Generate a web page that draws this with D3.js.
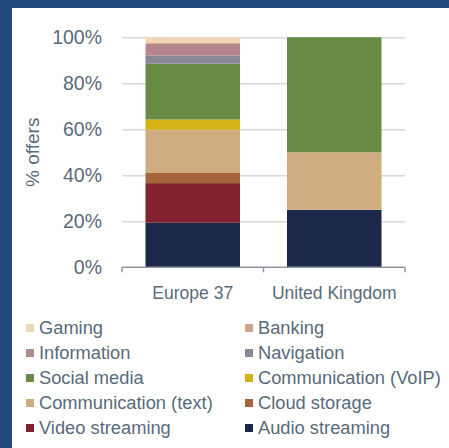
<!DOCTYPE html>
<html>
<head>
	<title>Offers by category</title>
	<meta charset='utf-8'>
	<style>
		body { margin: 0; background: #fff; }
		text { font-family: 'Liberation Sans', Arial, sans-serif; fill: #596a7b; }
		.grid line { stroke: #d9d9d9; stroke-width: 1.5px; }
		.grid path { stroke-width: 0; }
		.axis__y text { font-size: 19.5px; }
		.axis__x line, .axis__x path { stroke: #8e96a0; stroke-width: 1.5px; fill: none; }
		.axis__x text { font-size: 17.5px; }
		.legend text { font-size: 18.3px; }
	</style>
</head>
<body>

<script src='https://d3js.org/d3.v7.min.js'></script>
<script>
	'use strict';

	// данные
	const categories = ['Europe 37', 'United Kingdom'];
	const seriesNames = ['Audio streaming', 'Video streaming', 'Cloud storage', 'Communication (text)',
		'Communication (VoIP)', 'Social media', 'Navigation', 'Information', 'Banking', 'Gaming'];
	const europeValues = [19.4, 17.2, 4.4, 18.8, 4.5, 24.2, 3.6, 5.0, 0.4, 2.5];
	const ukValues = [25, 0, 0, 25, 0, 50, 0, 0, 0, 0];
	const seriesColors = ['#1c2849', '#822130', '#a5643a', '#cfad80', '#d4b319',
		'#678b44', '#878894', '#b5878a', '#d3a48f', '#f0d6b4'];
	const yTicks = [0, 20, 40, 60, 80, 100];
	const legendOrder = ['Gaming', 'Banking', 'Information', 'Navigation', 'Social media',
		'Communication (VoIP)', 'Communication (text)', 'Cloud storage', 'Video streaming', 'Audio streaming'];

	const W = 449, H = 448;
	const plot = {left: 122, right: 405, top: 37.3, bottom: 267.3};

	const svg = d3.select('body').append('svg')
		.attr('width', W)
		.attr('height', H);

	// рамка
	svg.append('rect').attr('width', W).attr('height', H).attr('fill', '#214a7c');
	svg.append('rect').attr('x', 12).attr('y', 8).attr('width', W - 12).attr('height', H - 8).attr('fill', '#fff');

	const xScale = d3.scaleBand().domain(categories).range([plot.left, plot.right])
		.paddingInner(0.332).paddingOuter(0.166);
	const xEdges = d3.scaleBand().domain(categories).range([plot.left, plot.right]).padding(0);
	const yScale = d3.scaleLinear().domain([0, 100]).range([plot.bottom, plot.top]);

	// сетка + подписи оси Y
	svg.append('g')
		.attr('class', 'grid axis__y')
		.attr('transform', 'translate(' + plot.left + ',0)')
		.call(d3.axisLeft(yScale)
			.tickValues(yTicks)
			.tickSize(-(plot.right - plot.left))
			.tickPadding(20)
			.tickFormat(function(d) { return d + '%'; }))
		.call(function(g) { g.selectAll('.tick').filter(function(d) { return d === 0; }).select('line').remove(); });

	// столбцы
	const rows = categories.map(function(c, i) {
		const row = {category: c};
		const vals = i === 0 ? europeValues : ukValues;
		seriesNames.forEach(function(s, j) { row[s] = vals[j]; });
		return row;
	});
	const stacked = d3.stack().keys(seriesNames)(rows);

	svg.append('g').selectAll('g')
		.data(stacked)
		.enter().append('g')
		.attr('fill', function(d, i) { return seriesColors[i]; })
		.selectAll('rect')
		.data(function(d) { return d; })
		.enter().append('rect')
		.attr('x', function(d) { return xScale(d.data.category); })
		.attr('width', xScale.bandwidth())
		.attr('y', function(d) { return yScale(d[1]); })
		.attr('height', function(d) { return yScale(d[0]) - yScale(d[1]); });

	// ось X
	const xAxis = svg.append('g').attr('class', 'axis__x');
	xAxis.append('line')
		.attr('x1', plot.left).attr('x2', plot.right)
		.attr('y1', plot.bottom).attr('y2', plot.bottom);
	const edges = categories.map(function(c) { return xEdges(c); }).concat([plot.right]);
	xAxis.selectAll('.edge').data(edges).enter().append('line')
		.attr('class', 'edge')
		.attr('x1', function(d) { return d; }).attr('x2', function(d) { return d; })
		.attr('y1', plot.bottom).attr('y2', plot.bottom + 5);
	xAxis.selectAll('text').data(categories).enter().append('text')
		.attr('x', function(d) { return xScale(d) + xScale.bandwidth() / 2; })
		.attr('y', 298.5)
		.attr('text-anchor', 'middle')
		.text(function(d) { return d; });

	// подпись оси Y
	svg.append('text')
		.attr('transform', 'translate(39,' + ((plot.top + plot.bottom) / 2) + ') rotate(-90)')
		.attr('text-anchor', 'middle')
		.style('font-size', '19px')
		.text('% offers');

	// легенда
	const legend = svg.append('g').attr('class', 'legend');
	const item = legend.selectAll('g').data(legendOrder).enter().append('g')
		.attr('transform', function(d, i) {
			const col = i % 2, row = Math.floor(i / 2);
			return 'translate(' + (col === 0 ? 26 : 245) + ',' + (328 + row * 25) + ')';
		});
	item.append('rect')
		.attr('y', -4).attr('width', 8).attr('height', 8)
		.attr('fill', function(d) { return seriesColors[seriesNames.indexOf(d)]; });
	item.append('text')
		.attr('x', 13).attr('dy', '0.35em')
		.text(function(d) { return d; });
</script>
</body>
</html>
